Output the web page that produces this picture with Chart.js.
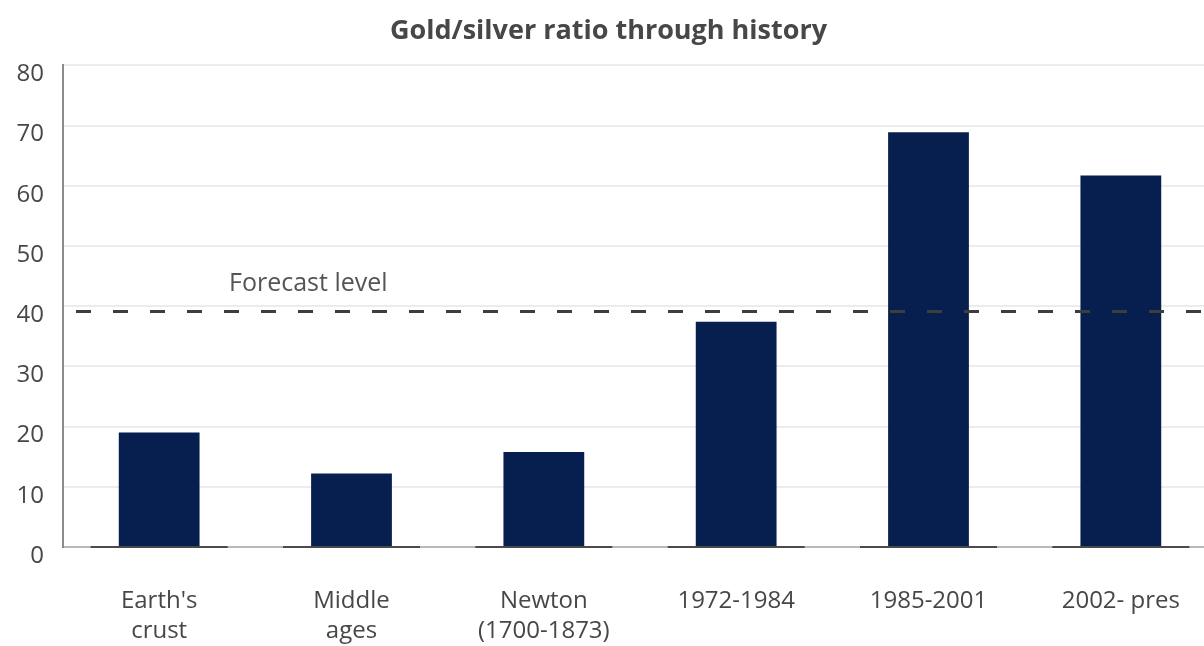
<!DOCTYPE html>
<html>
<head>
<meta charset="utf-8">
<script src="https://cdn.jsdelivr.net/npm/chart.js@4/dist/chart.umd.min.js"></script>
<style>
  html, body { margin: 0; padding: 0; background: #fff; overflow: hidden; }
  #wrap { width: 1220px; height: 646px; }
</style>
</head>
<body>
<div id="wrap"><canvas id="c" width="1220" height="646"></canvas></div>
<script>
// Gold/silver ratio by era
const categories = [
  ["Earth's", "crust"],
  ["Middle", "ages"],
  ["Newton", "(1700-1873)"],
  "1972-1984",
  "1985-2001",
  "2002- pres"
];
const ratios = [19, 12.2, 15.8, 37.4, 68.9, 61.7];
const forecastLevel = 39.1;
const forecastLabel = "Forecast level";
const yTicks = [0, 10, 20, 30, 40, 50, 60, 70, 80];

const FONT = "'Open Sans', Lato, sans-serif";
const TEXT = '#474747';

// Dashed forecast line across the plot, with its caption
const forecastPlugin = {
  id: 'forecast',
  afterDatasetsDraw(chart) {
    const { ctx, chartArea, scales } = chart;
    const y = scales.y.getPixelForValue(forecastLevel);
    ctx.save();
    ctx.strokeStyle = '#3d3d3d';
    ctx.lineWidth = 3;
    ctx.setLineDash([15, 22]);
    ctx.lineDashOffset = 26;
    ctx.beginPath();
    ctx.moveTo(chartArea.left + 2, y);
    ctx.lineTo(chartArea.right, y);
    ctx.stroke();
    ctx.setLineDash([]);
    ctx.fillStyle = '#555';
    ctx.font = '25px ' + FONT;
    ctx.textAlign = 'left';
    ctx.textBaseline = 'middle';
    ctx.fillText(forecastLabel, 229, y - 28);
    ctx.restore();
  }
};

// Darker baseline segment under each category
const baselinePlugin = {
  id: 'baseline',
  beforeDatasetsDraw(chart) {
    const { ctx, scales } = chart;
    const y = scales.y.getPixelForValue(0);
    const half = scales.x.width / categories.length * 0.356;
    ctx.save();
    ctx.strokeStyle = '#4a4a4a';
    ctx.lineWidth = 2;
    categories.forEach((_, i) => {
      const x = scales.x.getPixelForValue(i);
      ctx.beginPath();
      ctx.moveTo(x - half, y);
      ctx.lineTo(x + half, y);
      ctx.stroke();
    });
    ctx.restore();
  }
};

new Chart(document.getElementById('c'), {
  type: 'bar',
  data: {
    labels: categories,
    datasets: [{
      data: ratios,
      backgroundColor: '#061f4e',
      borderWidth: 0,
      barPercentage: 0.84,
      categoryPercentage: 0.5
    }]
  },
  options: {
    responsive: false,
    animation: false,
    devicePixelRatio: 1,
    layout: { padding: { left: 0, right: 3, top: 0, bottom: 0 } },
    plugins: {
      legend: { display: false },
      tooltip: { enabled: false },
      title: {
        display: true,
        text: 'Gold/silver ratio through history',
        color: TEXT,
        font: { family: FONT, size: 27, weight: 'bold', lineHeight: 1.2 },
        padding: { top: 15, bottom: 18 }
      }
    },
    scales: {
      x: {
        grid: { display: false, drawTicks: false },
        border: { display: true, color: '#b8b8b8', width: 2 },
        ticks: {
          color: TEXT,
          font: { family: FONT, size: 24, lineHeight: 1.25 },
          padding: 39,
          maxRotation: 0,
          autoSkip: false
        },
        afterFit(scale) { scale.height = 99; }
      },
      y: {
        min: 0,
        max: 80,
        afterBuildTicks(scale) { scale.ticks = yTicks.map(v => ({ value: v })); },
        grid: { color: '#ececec', lineWidth: 2, drawTicks: false },
        border: { display: true, color: '#8c8c8c', width: 2 },
        ticks: {
          color: TEXT,
          font: { family: FONT, size: 24 },
          padding: 19,
          labelOffset: 9
        },
        afterFit(scale) { scale.width = 63; }
      }
    }
  },
  plugins: [baselinePlugin, forecastPlugin]
});
</script>
</body>
</html>
